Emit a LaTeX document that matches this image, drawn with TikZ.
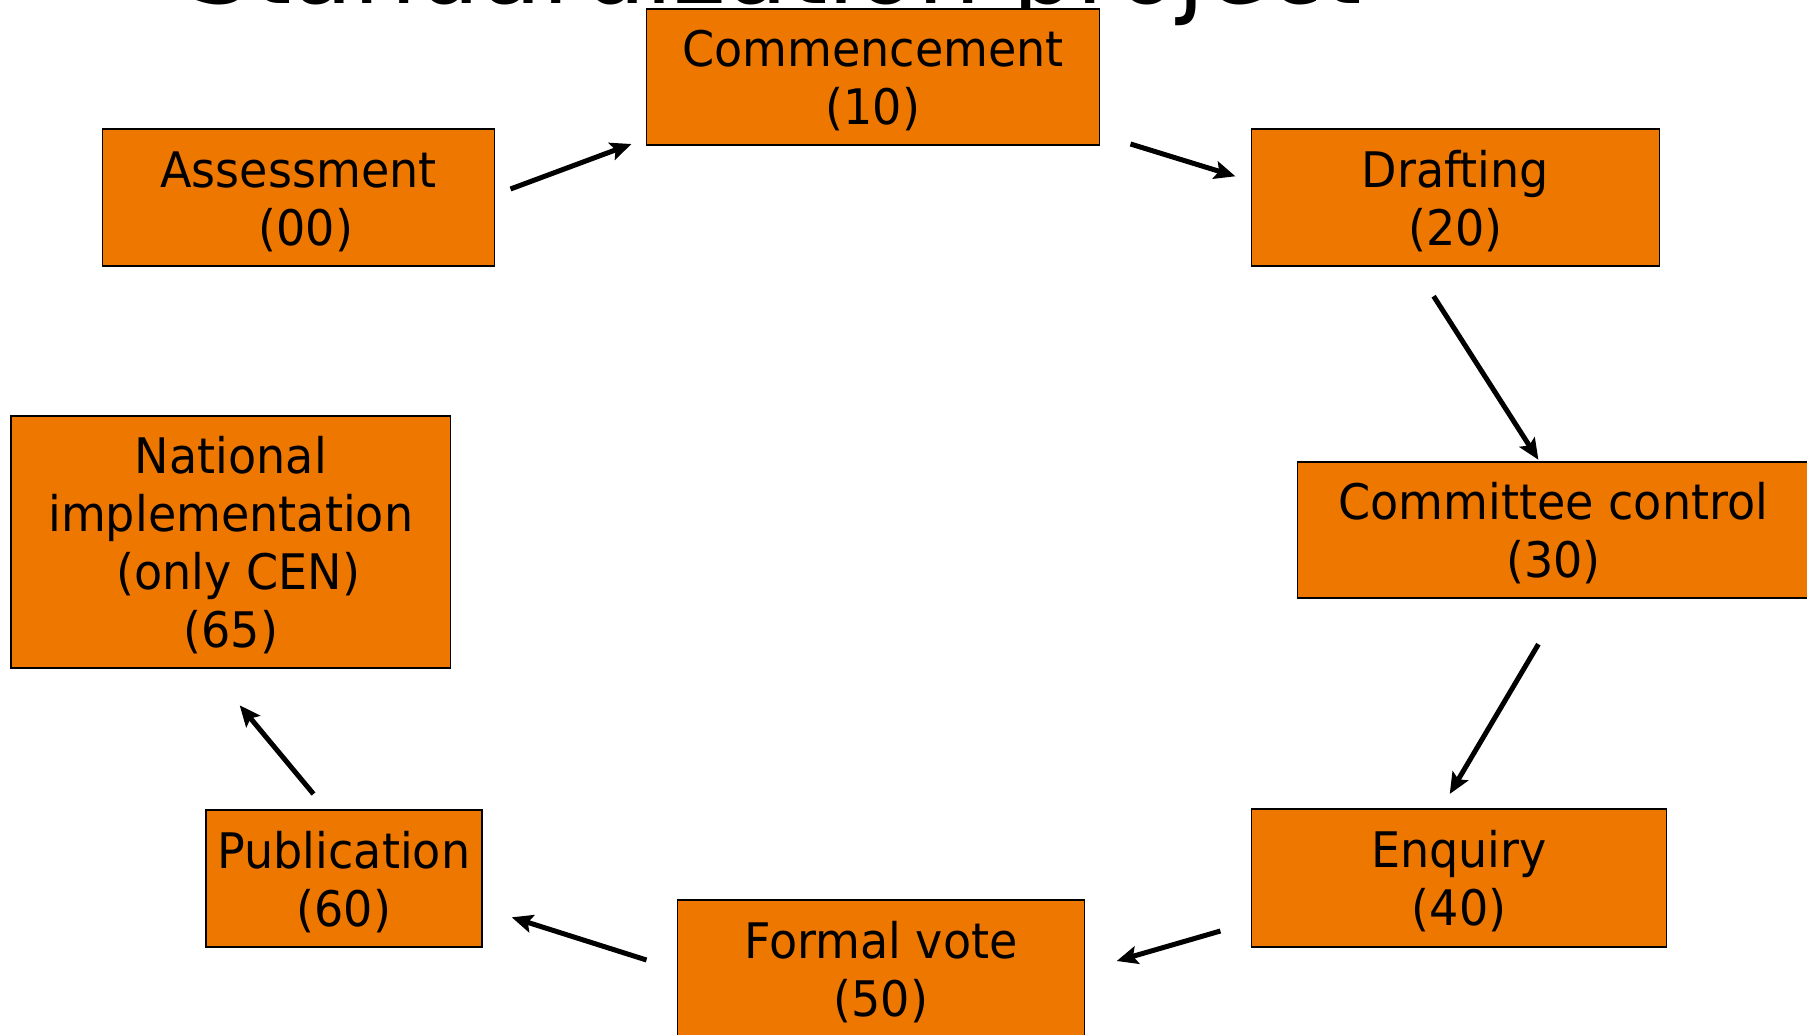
\documentclass[tikz,border=0pt]{standalone}
\usepackage{fontspec}
\setmainfont{DejaVu Sans}[FakeStretch=0.94]
\usetikzlibrary{arrows.meta}
\definecolor{boxorange}{RGB}{238,119,0}
\newcommand\boxtopfix{\rule{0pt}{44pt}}
\tikzset{
  stagebox/.style={draw=black, line width=1.6pt, fill=boxorange, align=center,
    inner sep=0pt, font=\fontsize{49}{58}\selectfont, text=black},
  flowarrow/.style={line width=5pt, -{Stealth[length=21pt,width=18pt,inset=4pt]}}
}
\begin{document}
\begin{tikzpicture}[x=1pt,y=-1pt]
\useasboundingbox (0,0) rectangle (1807,1035);
\clip (0,0) rectangle (1807,1035);
\fill[white] (0,0) rectangle (1807,1035);
\node[anchor=base, font=\fontsize{107}{120}\selectfont, inner sep=0pt] (title) at (775,4) {Standardization project};

\node[stagebox, minimum width=453pt, minimum height=136pt] (commence) at (873,77) {\boxtopfix Commencement\\(10)};
\node[stagebox, minimum width=392pt, minimum height=137pt] (assess) at (298.5,197.5) {\boxtopfix Assessment\\\hspace*{15pt}(00)};
\node[stagebox, minimum width=408pt, minimum height=137pt] (draft) at (1455.5,197.5) {\boxtopfix Drafting\\(20)};
\node[stagebox, minimum width=512pt, minimum height=136pt] (committee) at (1553.3,530) {\boxtopfix Committee control\\(30)};
\node[stagebox, minimum width=439.5pt, minimum height=252pt] (national) at (230.8,542) {\boxtopfix National\\implementation\\\hspace*{15pt}(only CEN)\\(65)};
\node[stagebox, minimum width=275.7pt, minimum height=137pt] (publication) at (343.9,878.5) {\boxtopfix Publication\\(60)};
\node[stagebox, minimum width=406.8pt, minimum height=137pt] (formal) at (881,968.5) {\boxtopfix Formal vote\\(50)};
\node[stagebox, minimum width=415pt, minimum height=138pt] (enquiry) at (1459,878) {\boxtopfix Enquiry\\(40)};

\coordinate (a1s) at (510.5,189);   \coordinate (a1e) at (631.5,144);
\coordinate (a2s) at (1130.5,144);  \coordinate (a2e) at (1235.4,176.3);
\coordinate (a3s) at (1433.6,296.2); \coordinate (a3e) at (1538.4,459.8);
\coordinate (a4s) at (1538.4,644.2); \coordinate (a4e) at (1449.7,794);
\coordinate (a5s) at (1220.4,931);  \coordinate (a5e) at (1116.7,961);
\coordinate (a6s) at (646.5,960);   \coordinate (a6e) at (511.7,917.3);
\coordinate (a7s) at (313.5,794);   \coordinate (a7e) at (239.7,705.3);

\draw[flowarrow] (a1s) -- (a1e);
\draw[flowarrow] (a2s) -- (a2e);
\draw[flowarrow] (a3s) -- (a3e);
\draw[flowarrow] (a4s) -- (a4e);
\draw[flowarrow] (a5s) -- (a5e);
\draw[flowarrow] (a6s) -- (a6e);
\draw[flowarrow] (a7s) -- (a7e);
\end{tikzpicture}
\end{document}
